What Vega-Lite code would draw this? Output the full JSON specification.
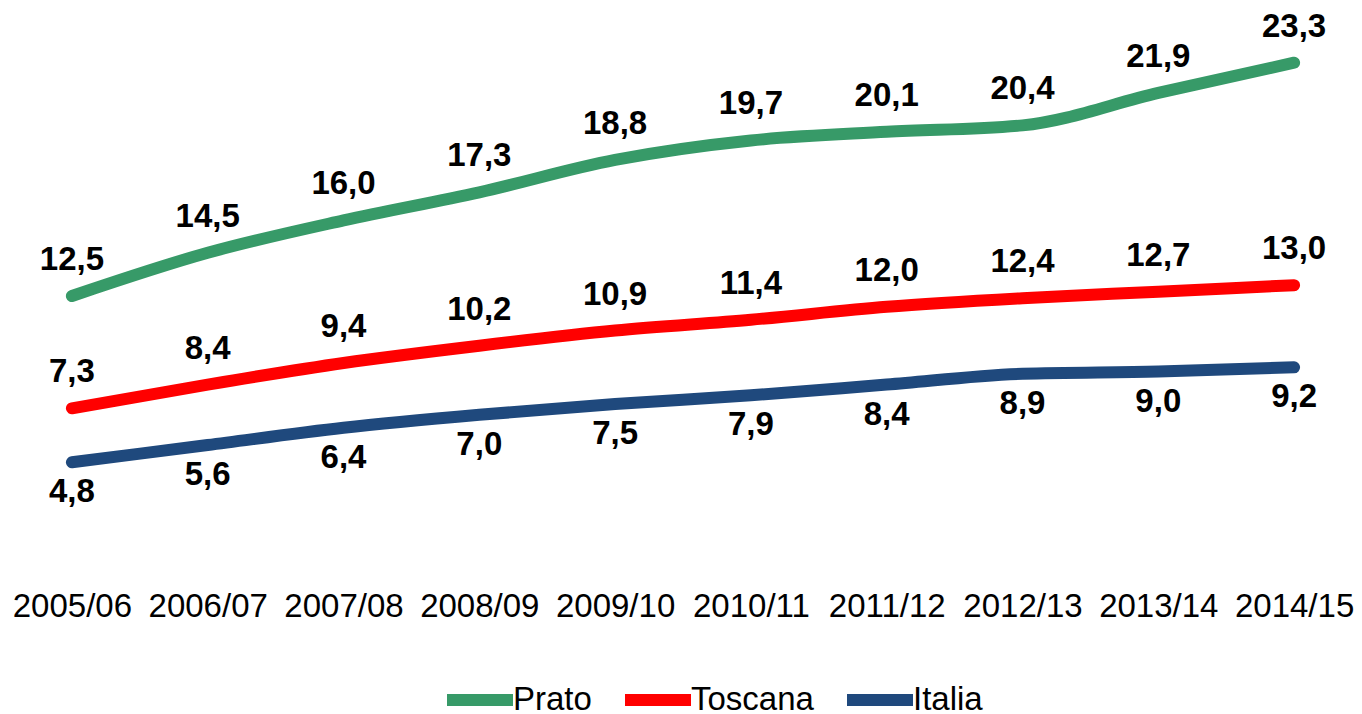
{
  "$schema": "https://vega.github.io/schema/vega-lite/v6.json",
  "width": 1358,
  "height": 540,
  "autosize": {"type": "none"},
  "padding": {"left": 4, "top": 26, "right": 0, "bottom": 148},
  "background": "white",
  "config": {
    "view": {"stroke": null},
    "font": "Liberation Sans",
    "locale": {"number": {"decimal": ",", "thousands": ".", "grouping": [3], "currency": ["", " €"]}}
  },
  "data": {
    "values": [
      {"anno": "2005/06", "serie": "Prato", "valore": 12.5},
      {"anno": "2006/07", "serie": "Prato", "valore": 14.5},
      {"anno": "2007/08", "serie": "Prato", "valore": 16.0},
      {"anno": "2008/09", "serie": "Prato", "valore": 17.3},
      {"anno": "2009/10", "serie": "Prato", "valore": 18.8},
      {"anno": "2010/11", "serie": "Prato", "valore": 19.7},
      {"anno": "2011/12", "serie": "Prato", "valore": 20.1},
      {"anno": "2012/13", "serie": "Prato", "valore": 20.4},
      {"anno": "2013/14", "serie": "Prato", "valore": 21.9},
      {"anno": "2014/15", "serie": "Prato", "valore": 23.3},
      {"anno": "2005/06", "serie": "Toscana", "valore": 7.3},
      {"anno": "2006/07", "serie": "Toscana", "valore": 8.4},
      {"anno": "2007/08", "serie": "Toscana", "valore": 9.4},
      {"anno": "2008/09", "serie": "Toscana", "valore": 10.2},
      {"anno": "2009/10", "serie": "Toscana", "valore": 10.9},
      {"anno": "2010/11", "serie": "Toscana", "valore": 11.4},
      {"anno": "2011/12", "serie": "Toscana", "valore": 12.0},
      {"anno": "2012/13", "serie": "Toscana", "valore": 12.4},
      {"anno": "2013/14", "serie": "Toscana", "valore": 12.7},
      {"anno": "2014/15", "serie": "Toscana", "valore": 13.0},
      {"anno": "2005/06", "serie": "Italia", "valore": 4.8},
      {"anno": "2006/07", "serie": "Italia", "valore": 5.6},
      {"anno": "2007/08", "serie": "Italia", "valore": 6.4},
      {"anno": "2008/09", "serie": "Italia", "valore": 7.0},
      {"anno": "2009/10", "serie": "Italia", "valore": 7.5},
      {"anno": "2010/11", "serie": "Italia", "valore": 7.9},
      {"anno": "2011/12", "serie": "Italia", "valore": 8.4},
      {"anno": "2012/13", "serie": "Italia", "valore": 8.9},
      {"anno": "2013/14", "serie": "Italia", "valore": 9.0},
      {"anno": "2014/15", "serie": "Italia", "valore": 9.2}
    ]
  },
  "encoding": {
    "x": {
      "field": "anno", "type": "ordinal",
      "scale": {"type": "point", "padding": 0.5},
      "axis": {
        "title": null, "domain": false, "ticks": false, "labelAngle": 0,
        "labelFontSize": 33, "labelColor": "#000000", "labelPadding": 24,
        "labelOverlap": false, "labelFlush": false, "labelFont": "Liberation Sans"
      }
    },
    "y": {
      "field": "valore", "type": "quantitative",
      "scale": {"domain": [0, 25], "nice": false, "zero": true},
      "axis": null
    }
  },
  "layer": [
    {
      "mark": {"type": "line", "strokeWidth": 12, "strokeCap": "round", "strokeJoin": "round", "interpolate": "monotone"},
      "encoding": {
        "color": {
          "field": "serie", "type": "nominal",
          "scale": {"domain": ["Prato", "Toscana", "Italia"], "range": ["#379A68", "#FF0000", "#1F497D"]},
          "legend": {
            "title": null, "orient": "none", "direction": "horizontal",
            "legendX": 437, "legendY": 635,
            "symbolType": "stroke", "symbolSize": 4356, "symbolStrokeWidth": 12,
            "labelFontSize": 33, "labelColor": "#000000", "labelFont": "Liberation Sans",
            "labelOffset": -6, "columnPadding": 9, "labelLimit": 300
          }
        }
      }
    },
    {
      "transform": [{"filter": "datum.serie !== 'Italia'"}],
      "mark": {"type": "text", "fontSize": 33, "fontWeight": "bold", "color": "#000000", "dy": -36, "font": "Liberation Sans"},
      "encoding": {"text": {"field": "valore", "type": "quantitative", "format": ".1f"}}
    },
    {
      "transform": [{"filter": "datum.serie === 'Italia'"}],
      "mark": {"type": "text", "fontSize": 33, "fontWeight": "bold", "color": "#000000", "dy": 30, "font": "Liberation Sans"},
      "encoding": {"text": {"field": "valore", "type": "quantitative", "format": ".1f"}}
    }
  ]
}
